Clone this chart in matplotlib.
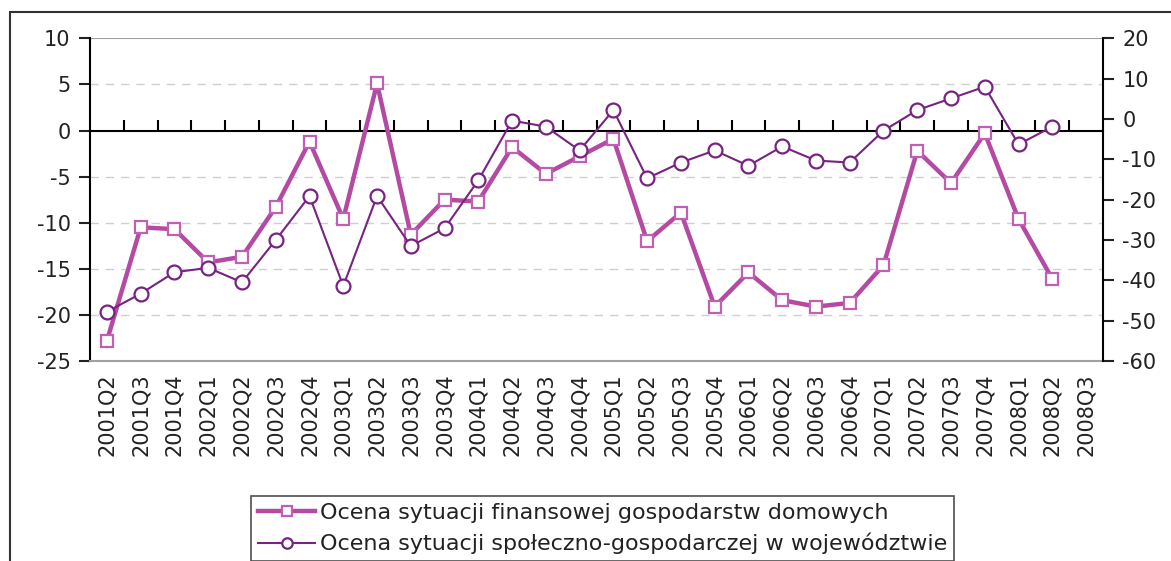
import numpy as np
import matplotlib
matplotlib.use('Agg')
import matplotlib.pyplot as plt
from matplotlib.patches import Rectangle

quarters = ['2001Q2', '2001Q3', '2001Q4', '2002Q1', '2002Q2', '2002Q3', '2002Q4',
            '2003Q1', '2003Q2', '2003Q3', '2003Q4', '2004Q1', '2004Q2', '2004Q3',
            '2004Q4', '2005Q1', '2005Q2', '2005Q3', '2005Q4', '2006Q1', '2006Q2',
            '2006Q3', '2006Q4', '2007Q1', '2007Q2', '2007Q3', '2007Q4', '2008Q1',
            '2008Q2', '2008Q3']

# left axis series (no value for 2008Q3)
finanse = [-22.8, -10.5, -10.7, -14.3, -13.7, -8.3, -1.2, -9.6, 5.1, -11.3,
           -7.5, -7.7, -1.8, -4.7, -2.8, -0.9, -12.0, -8.9, -19.1, -15.4,
           -18.4, -19.1, -18.7, -14.6, -2.2, -5.7, -0.3, -9.6, -16.1, np.nan]

# right axis series
wojewodztwo = [-47.8, -43.3, -38.0, -36.9, -40.5, -30.0, -19.1, -41.4, -19.1, -31.5,
               -27.1, -15.2, -0.4, -1.9, -7.8, 2.2, -14.7, -10.8, -7.8, -11.6,
               -6.8, -10.3, -10.8, -2.9, 2.2, 5.1, 8.0, -6.3, -1.9, np.nan]

label1 = 'Ocena sytuacji finansowej gospodarstw domowych'
label2 = 'Ocena sytuacji społeczno-gospodarczej w województwie'

col1 = '#b54aa3'
col2 = '#762381'

plt.rcParams['font.family'] = 'DejaVu Sans'
plt.rcParams['axes.unicode_minus'] = False

fig = plt.figure(figsize=(11.71, 5.61), dpi=100)
ax = fig.add_axes([0.0769, 0.3565, 0.8650, 0.5752])
ax2 = ax.twinx()

x = np.arange(len(quarters))

ax.plot(x, finanse, color=col1, lw=3.2, marker='s', ms=9, mfc='white',
        mec='#c060b4', mew=1.6, label=label1, zorder=5)
ax2.plot(x, wojewodztwo, color=col2, lw=1.5, marker='o', ms=10, mfc='white',
         mec=col2, mew=1.6, label=label2, zorder=5)

ax.set_xlim(-0.5, len(quarters) - 0.5)
ax.set_ylim(-25, 10)
ax.set_yticks(range(-25, 11, 5))
ax2.set_ylim(-60, 20)
ax2.set_yticks(range(-60, 21, 10))

# grid
for v in range(-20, 10, 5):
    if v != 0:
        ax.axhline(v, color='#cfcfcf', lw=1, ls=(0, (6, 5)), zorder=0)
ax.axhline(10, color='#a0a0a0', lw=1.5, zorder=1)

# x axis crossing at zero with category separators
ax.spines['top'].set_position(('data', 0))
ax.spines['top'].set_color('black')
ax.spines['top'].set_linewidth(1.5)
ax.spines['bottom'].set_color('#a0a0a0')
ax.spines['bottom'].set_linewidth(1.5)
ax.spines['right'].set_visible(False)
ax.spines['left'].set_linewidth(1.5)
for s in ['top', 'bottom', 'left']:
    ax2.spines[s].set_visible(False)
ax2.spines['right'].set_linewidth(1.5)

ax.set_xticks(x)
ax.set_xticklabels(quarters, rotation=90, fontsize=15, color='#222222')
ax.set_xticks(np.arange(0.5, len(quarters) - 1, 1.0), minor=True)
ax.tick_params(axis='x', which='major', length=0, pad=9, bottom=True, top=False)
ax.tick_params(axis='x', which='minor', length=8, width=1.5, direction='out',
               top=True, bottom=False)

ax.tick_params(axis='y', length=8, width=1.5, labelsize=15, colors='#222222', pad=6)
ax2.tick_params(axis='y', length=8, width=1.5, labelsize=15, colors='#222222', pad=6)

h1, l1 = ax.get_legend_handles_labels()
h2, l2 = ax2.get_legend_handles_labels()
leg = fig.legend(h1 + h2, l1 + l2, loc='lower left', bbox_to_anchor=(251 / 1171, 0.0),
                 fontsize=16, frameon=True, fancybox=False, handlelength=2.6,
                 markerscale=0.75, handletextpad=0.2, borderpad=0.3,
                 labelspacing=0.45, borderaxespad=0.0)
leg.get_frame().set_edgecolor('#222222')
leg.get_frame().set_linewidth(1.2)
for t in leg.get_texts():
    t.set_color('#222222')

# outer chart frame
fig.patches.append(Rectangle((10 / 1171, -0.2), 2, 1.2 - 12 / 561, transform=fig.transFigure,
                             fill=False, edgecolor='#333333', lw=1.5, figure=fig))

fig.savefig('out.png', dpi=100)
